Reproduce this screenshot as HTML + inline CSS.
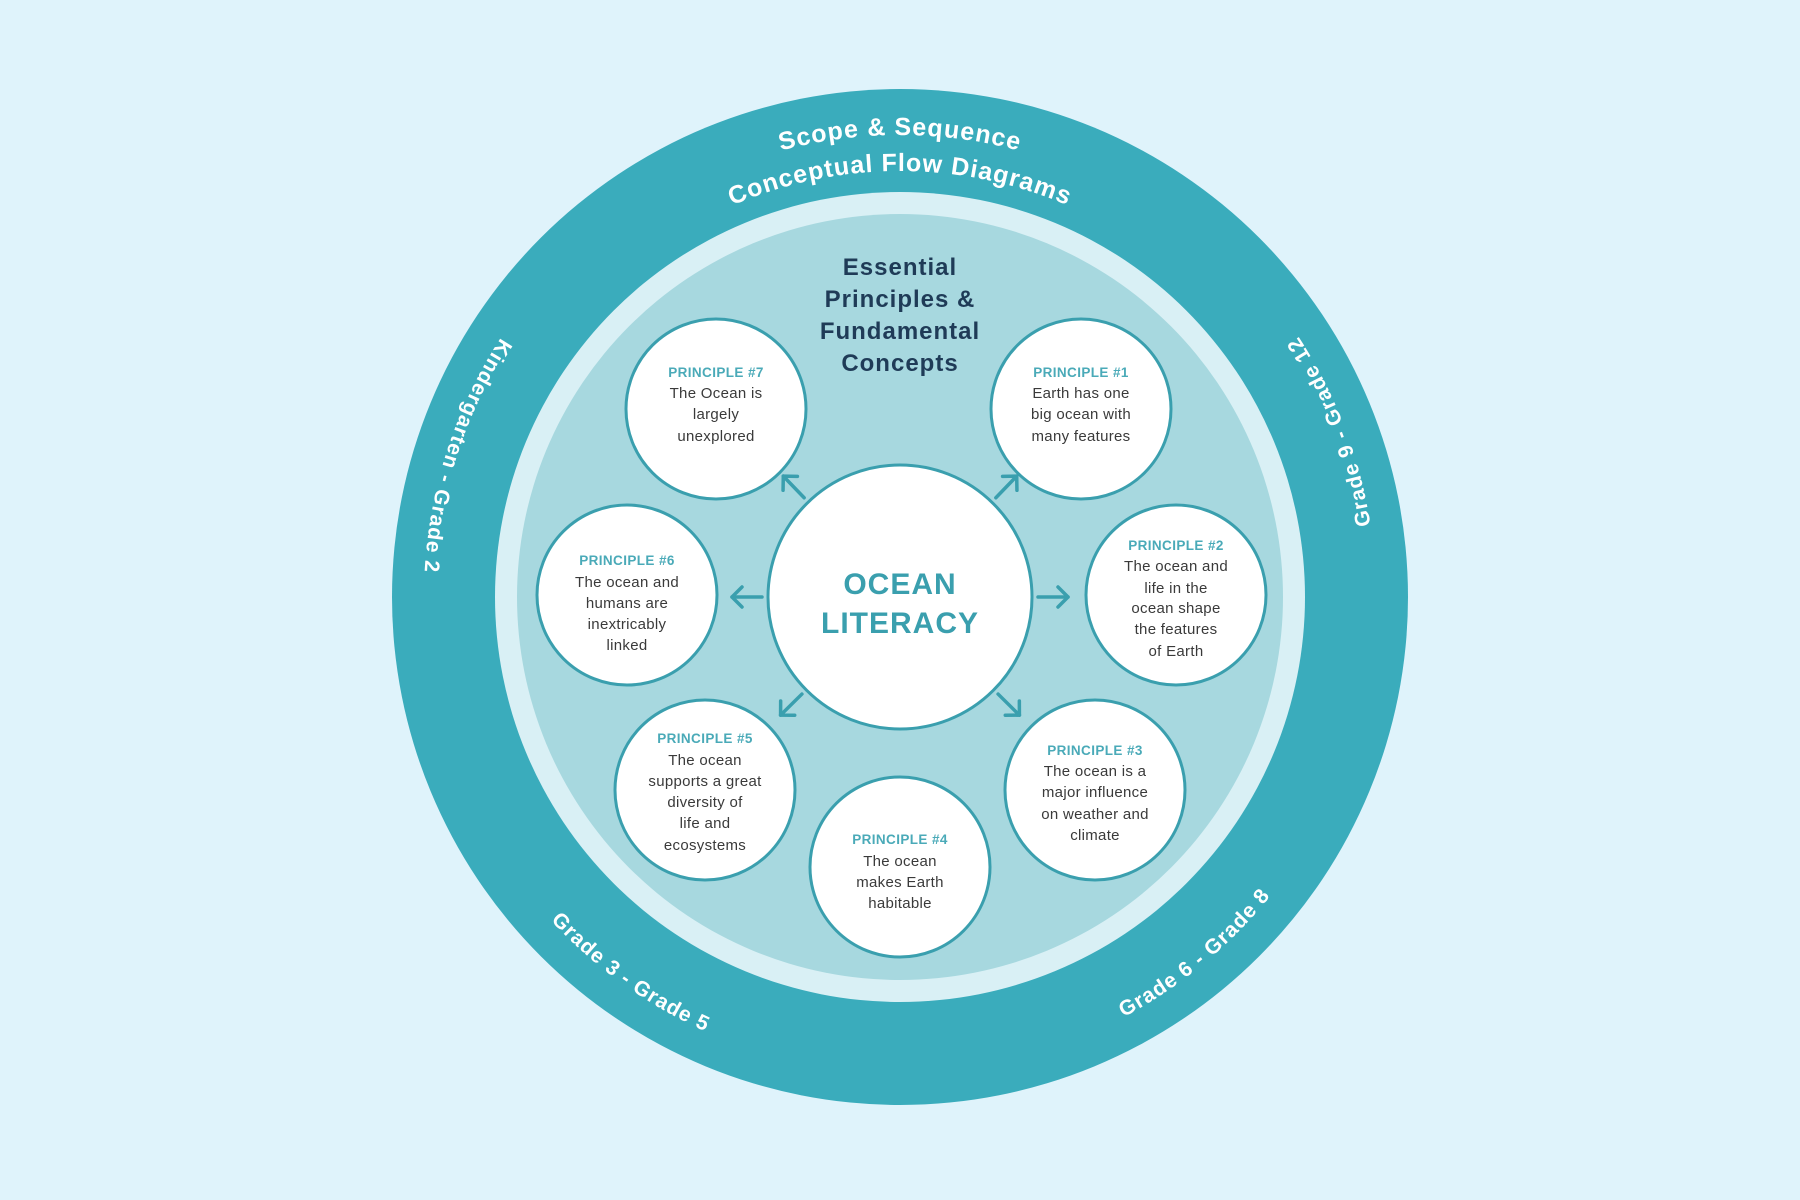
<!DOCTYPE html>
<html><head><meta charset="utf-8"><style>
html,body{margin:0;padding:0;background:#dff3fb;}
svg{display:block;}
text{font-family:"Liberation Sans",sans-serif;}
.lab{fill:#4aaab8;font-weight:bold;font-size:13.5px;text-anchor:middle;letter-spacing:0.4px;}
.bd{fill:#3a3a3a;font-size:15px;text-anchor:middle;letter-spacing:0.3px;}
.ring{fill:#fff;font-weight:bold;font-size:21px;letter-spacing:1px;}
</style></head><body>
<svg width="1800" height="1200" viewBox="0 0 1800 1200" xmlns="http://www.w3.org/2000/svg">
<defs>
<path id="ccw" d="M1376 597 A476 476 0 1 0 424 597 A476 476 0 1 0 1376 597"/>
<path id="top1" d="M438 597 A462 462 0 0 1 1362 597"/>
<path id="top2" d="M474 597 A426 426 0 0 1 1326 597"/>
</defs>
<rect width="1800" height="1200" fill="#dff3fb"/>
<circle cx="900" cy="597" r="508" fill="#3aacbc"/>
<circle cx="900" cy="597" r="405" fill="#d9f0f5"/>
<circle cx="900" cy="597" r="383" fill="#a7d8df"/>
<text class="ring"><textPath href="#top1" startOffset="50%" text-anchor="middle" style="font-size:25px">Scope &amp; Sequence</textPath></text>
<text class="ring"><textPath href="#top2" startOffset="50%" text-anchor="middle" style="font-size:25px">Conceptual Flow Diagrams</textPath></text>
<text class="ring"><textPath href="#ccw" startOffset="5.83%" text-anchor="middle">Grade 9 - Grade 12</textPath></text>
<text class="ring"><textPath href="#ccw" startOffset="45%" text-anchor="middle">Kindergarten - Grade 2</textPath></text>
<text class="ring"><textPath href="#ccw" startOffset="65.1%" text-anchor="middle">Grade 3 - Grade 5</textPath></text>
<text class="ring"><textPath href="#ccw" startOffset="86%" text-anchor="middle">Grade 6 - Grade 8</textPath></text>

<g fill="#1f3b57" font-weight="bold" font-size="24" text-anchor="middle" letter-spacing="1">
<text x="900" y="275">Essential</text>
<text x="900" y="307">Principles &amp;</text>
<text x="900" y="339">Fundamental</text>
<text x="900" y="371">Concepts</text>
</g>

<g fill="none" stroke="#3a9fae" stroke-width="3.5" stroke-linecap="round" stroke-linejoin="round">
<g transform="translate(900 597) rotate(-46)"><line x1="138" y1="0" x2="168" y2="0"/><polyline points="158,-10 168,0 158,10"/></g>
<g transform="translate(900 597) rotate(0)"><line x1="138" y1="0" x2="168" y2="0"/><polyline points="158,-10 168,0 158,10"/></g>
<g transform="translate(900 597) rotate(44.7)"><line x1="138" y1="0" x2="168" y2="0"/><polyline points="158,-10 168,0 158,10"/></g>
<g transform="translate(900 597) rotate(135.3)"><line x1="138" y1="0" x2="168" y2="0"/><polyline points="158,-10 168,0 158,10"/></g>
<g transform="translate(900 597) rotate(180)"><line x1="138" y1="0" x2="168" y2="0"/><polyline points="158,-10 168,0 158,10"/></g>
<g transform="translate(900 597) rotate(-134)"><line x1="138" y1="0" x2="168" y2="0"/><polyline points="158,-10 168,0 158,10"/></g>
</g>

<g fill="#fff" stroke="#3a9fae" stroke-width="3">
<circle cx="900" cy="597" r="132"/>
<circle cx="716" cy="409" r="90"/>
<circle cx="1081" cy="409" r="90"/>
<circle cx="627" cy="595" r="90"/>
<circle cx="1176" cy="595" r="90"/>
<circle cx="705" cy="790" r="90"/>
<circle cx="1095" cy="790" r="90"/>
<circle cx="900" cy="867" r="90"/>
</g>

<g fill="#3a9fae" font-weight="bold" font-size="30" text-anchor="middle" letter-spacing="1">
<text x="900" y="594">OCEAN</text>
<text x="900" y="633">LITERACY</text>
</g>

<text class="lab" x="716" y="377">PRINCIPLE #7</text>
<text class="bd" x="716" y="398">The Ocean is</text>
<text class="bd" x="716" y="419">largely</text>
<text class="bd" x="716" y="441">unexplored</text>

<text class="lab" x="1081" y="377">PRINCIPLE #1</text>
<text class="bd" x="1081" y="398">Earth has one</text>
<text class="bd" x="1081" y="419">big ocean with</text>
<text class="bd" x="1081" y="441">many features</text>

<text class="lab" x="1176" y="550">PRINCIPLE #2</text>
<text class="bd" x="1176" y="571">The ocean and</text>
<text class="bd" x="1176" y="593">life in the</text>
<text class="bd" x="1176" y="613">ocean shape</text>
<text class="bd" x="1176" y="634">the features</text>
<text class="bd" x="1176" y="656">of Earth</text>

<text class="lab" x="627" y="565">PRINCIPLE #6</text>
<text class="bd" x="627" y="587">The ocean and</text>
<text class="bd" x="627" y="608">humans are</text>
<text class="bd" x="627" y="629">inextricably</text>
<text class="bd" x="627" y="650">linked</text>

<text class="lab" x="705" y="743">PRINCIPLE #5</text>
<text class="bd" x="705" y="765">The ocean</text>
<text class="bd" x="705" y="786">supports a great</text>
<text class="bd" x="705" y="807">diversity of</text>
<text class="bd" x="705" y="828">life and</text>
<text class="bd" x="705" y="850">ecosystems</text>

<text class="lab" x="1095" y="755">PRINCIPLE #3</text>
<text class="bd" x="1095" y="776">The ocean is a</text>
<text class="bd" x="1095" y="797">major influence</text>
<text class="bd" x="1095" y="819">on weather and</text>
<text class="bd" x="1095" y="840">climate</text>

<text class="lab" x="900" y="844">PRINCIPLE #4</text>
<text class="bd" x="900" y="866">The ocean</text>
<text class="bd" x="900" y="887">makes Earth</text>
<text class="bd" x="900" y="908">habitable</text>
</svg>
</body></html>
